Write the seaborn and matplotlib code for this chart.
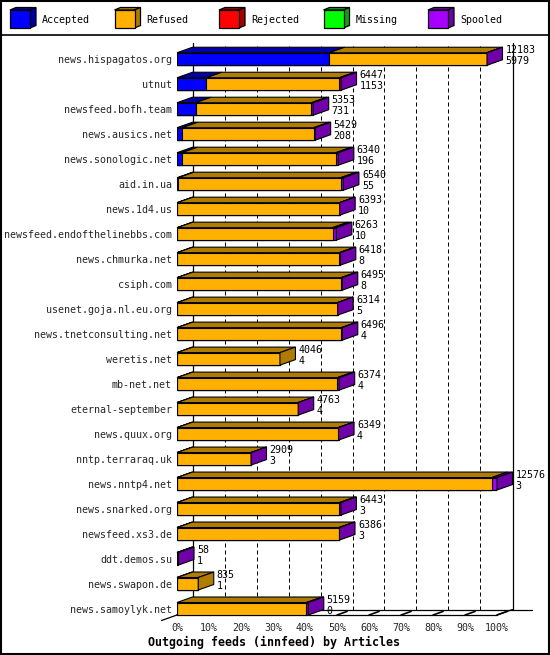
import numpy as np
import pandas as pd
import matplotlib
matplotlib.use("Agg")
import matplotlib.pyplot as plt
from matplotlib.patches import Polygon, Rectangle
from matplotlib.lines import Line2D
import seaborn as sns

# ---------------- data ----------------
hosts = ["news.hispagatos.org", "utnut", "newsfeed.bofh.team", "news.ausics.net",
         "news.sonologic.net", "aid.in.ua", "news.1d4.us", "newsfeed.endofthelinebbs.com",
         "news.chmurka.net", "csiph.com", "usenet.goja.nl.eu.org", "news.tnetconsulting.net",
         "weretis.net", "mb-net.net", "eternal-september", "news.quux.org",
         "nntp.terraraq.uk", "news.nntp4.net", "news.snarked.org", "newsfeed.xs3.de",
         "ddt.demos.su", "news.swapon.de", "news.samoylyk.net"]
totals = [12183, 6447, 5353, 5429, 6340, 6540, 6393, 6263, 6418, 6495, 6314, 6496,
          4046, 6374, 4763, 6349, 2909, 12576, 6443, 6386, 58, 835, 5159]
accepted = [5979, 1153, 731, 208, 196, 55, 10, 10, 8, 8, 5, 4,
            4, 4, 4, 4, 3, 3, 3, 3, 1, 1, 0]
refused = [6199, 5229, 4552, 5161, 6044, 6375, 6378, 6103, 6370, 6437, 6304, 6452,
           4042, 6300, 4754, 6340, 2901, 12373, 6380, 6363, 0, 834, 5089]
rejected = [0, 60, 0, 0, 0, 0, 0, 0, 0, 0, 0, 0,
            0, 0, 0, 0, 0, 0, 0, 0, 0, 0, 0]
missing = [0, 0, 0, 0, 0, 0, 0, 0, 0, 0, 0, 0,
           0, 0, 0, 0, 0, 0, 0, 0, 0, 0, 0]
spooled = [5, 5, 70, 60, 100, 110, 5, 150, 40, 50, 5, 40,
           0, 70, 5, 5, 5, 200, 60, 20, 57, 0, 70]
series_names = ["Accepted", "Refused", "Rejected", "Missing", "Spooled"]
x_ticks = [0, 10, 20, 30, 40, 50, 60, 70, 80, 90, 100]
title = "Outgoing feeds (innfeed) by Articles"

front_col = ["#0000FF", "#FFB000", "#FF0000", "#00FF00", "#A800FF"]
dark_col = ["#0000A8", "#B07C00", "#A80000", "#10A010", "#7000A8"]

# ---------------- setup ----------------
sns.set_theme(style="white")
plt.rcParams["font.family"] = ["DejaVu Sans Mono", "DejaVu Sans"]

W, H = 550, 655
fig = plt.figure(figsize=(W / 100, H / 100), dpi=100)
fig.patch.set_facecolor("white")

X0, X1 = 177, 497
YT, YB = 48, 615
ax = fig.add_axes([X0 / W, 1 - YB / H, (X1 - X0) / W, (YB - YT) / H])
ax.set_facecolor("none")

n = len(hosts)
HALF = 0.25
ylo, yhi = n - 1 + HALF, -0.44
px_per_unit_y = (YB - YT) / (ylo - yhi)
px_per_pct = (X1 - X0) / 100.0
DX = 15.5 / px_per_pct
DY = 5.5 / px_per_unit_y

maxv = max(totals)
segs = np.array([accepted, refused, rejected, missing, spooled], dtype=float)
cum = np.cumsum(segs, axis=0) / maxv * 100.0
starts = np.vstack([np.zeros(n), cum[:-1]])

LW = 0.8
# back wall / grid
top_back = yhi - DY
floor_back = ylo - DY
for t in x_ticks[1:-1]:
    ax.plot([t + DX, t + DX], [floor_back, top_back], color="black", lw=0.72,
            dashes=(4, 3), zorder=0, clip_on=False)
for t in [0, 100]:
    ax.plot([t + DX, t + DX], [floor_back, top_back], color="black", lw=0.9,
            zorder=0, clip_on=False)
# floor
ax.plot([DX, 100 + DX + 6], [floor_back, floor_back], color="black", lw=0.9, zorder=0, clip_on=False)
ax.plot([0, 100], [ylo, ylo], color="black", lw=0.9, zorder=0, clip_on=False)
ax.plot([100, 100 + DX], [ylo, floor_back], color="black", lw=0.9, zorder=0, clip_on=False)
ax.plot([-DX, DX], [ylo + DY, floor_back], color="black", lw=0.9, zorder=0, clip_on=False)
for t in x_ticks:
    ax.plot([t, t + DX * 0.65], [ylo, ylo - DY * 0.65], color="black", lw=1.2, zorder=0, clip_on=False)

# front faces (stacked by overlaying cumulative sums)
for k in reversed(range(5)):
    sns.barplot(x=cum[k], y=hosts, orient="h", color=front_col[k], saturation=1,
                width=2 * HALF, edgecolor="black", linewidth=LW, errorbar=None,
                ax=ax, zorder=2)

# top and side faces
for i in range(n):
    yt = i - HALF
    yb = i + HALF
    last = None
    for k in range(5):
        x0, x1 = starts[k, i], cum[k, i]
        if segs[k, i] <= 0:
            continue
        last = k
        ax.add_patch(Polygon([(x0, yt), (x1, yt), (x1 + DX, yt - DY), (x0 + DX, yt - DY)],
                             closed=True, fc=dark_col[k], ec="black", lw=LW, zorder=3,
                             clip_on=False))
    xe = cum[-1, i]
    ax.add_patch(Polygon([(xe, yt), (xe, yb), (xe + DX, yb - DY), (xe + DX, yt - DY)],
                         closed=True, fc=dark_col[last], ec="black", lw=LW, zorder=3,
                         clip_on=False))
    lx = xe + DX + 3 / px_per_pct
    ax.text(lx, i - 0.36, str(totals[i]), ha="left", va="center", fontsize=7.2,
            color="black", clip_on=False, zorder=4)
    ax.text(lx, i + 0.08, str(accepted[i]), ha="left", va="center", fontsize=7.2,
            color="black", clip_on=False, zorder=4)

ax.set_xlim(0, 100)
ax.set_ylim(ylo, yhi)
for s in ax.spines.values():
    s.set_visible(False)
ax.set_xticks(x_ticks)
ax.set_xticklabels([f"{t}%" for t in x_ticks])
ax.tick_params(axis="x", length=0, pad=5.5, labelsize=7.2)
ax.tick_params(axis="y", length=0, pad=3.6, labelsize=7.2)
ax.set_xlabel("")
ax.set_ylabel("")
ax.grid(False)

# title
fig.text(274 / W, 1 - 642 / H, title, ha="center", va="center",
         fontsize=8.4, fontweight="bold", color="black")

# legend
def fpoly(pts, fc):
    fig.add_artist(Polygon([(x / W, 1 - y / H) for x, y in pts], closed=True,
                           transform=fig.transFigure, fc=fc, ec="black", lw=0.9))

for k, name in enumerate(series_names):
    lx = 10 + k * 104.5
    fpoly([(lx, 10), (lx + 20, 10), (lx + 26, 7.5), (lx + 6, 7.5)], dark_col[k])
    fpoly([(lx + 20, 10), (lx + 20, 28), (lx + 26, 25.5), (lx + 26, 7.5)], dark_col[k])
    fpoly([(lx, 10), (lx + 20, 10), (lx + 20, 28), (lx, 28)], front_col[k])
    fig.text((lx + 32) / W, 1 - 20 / H, name, ha="left", va="center", fontsize=7.2,
             color="black")

fig.add_artist(Line2D([0, 1], [1 - 35 / H, 1 - 35 / H], transform=fig.transFigure,
                      color="black", lw=1.2))
fig.add_artist(Rectangle((0.001, 0.001), 0.998, 0.998, transform=fig.transFigure,
                         fill=False, ec="black", lw=1.5))

fig.savefig("out.png", dpi=100, facecolor="white")
